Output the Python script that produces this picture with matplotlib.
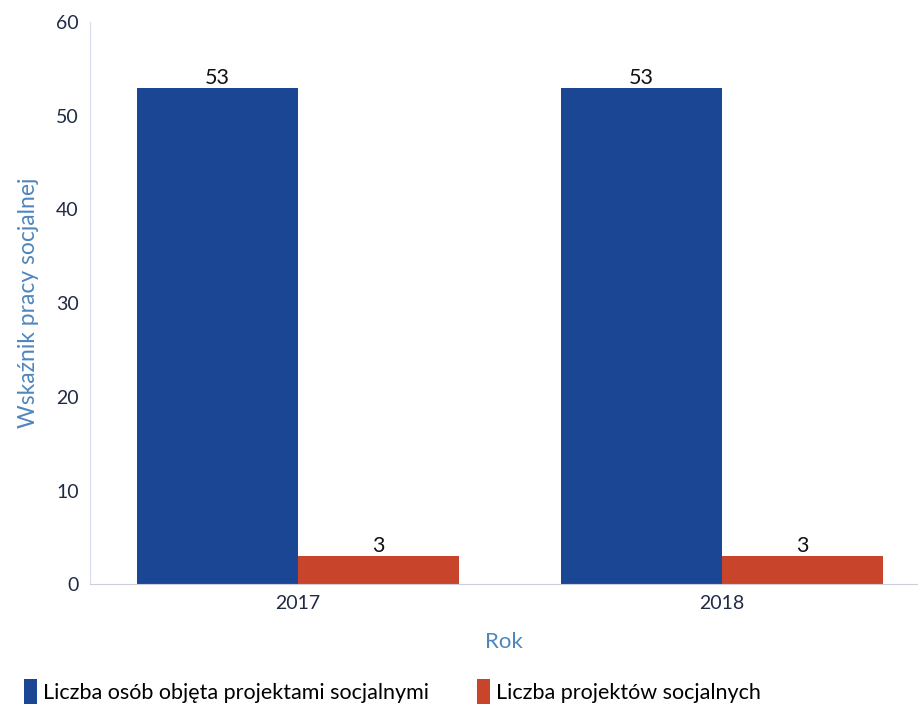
import matplotlib.pyplot as plt
import numpy as np

# data
years = ['2017', '2018']
people = [53, 53]
projects = [3, 3]
series_names = ['Liczba osób objęta projektami socjalnymi', 'Liczba projektów socjalnych']

plt.rcParams['font.family'] = ['Lato', 'DejaVu Sans']

fig = plt.figure(figsize=(9.18, 7.09), dpi=100)
ax = fig.add_axes([0.098, 0.176, 0.902, 0.793])

x = np.arange(len(years))
w = 0.38

b1 = ax.bar(x - w / 2, people, w, color='#1b4693', label=series_names[0])
b2 = ax.bar(x + w / 2, projects, w, color='#c8442b', label=series_names[1])

# value labels on top of bars
for rects in (b1, b2):
    for r in rects:
        ax.text(r.get_x() + r.get_width() / 2, r.get_height(), str(int(r.get_height())),
                ha='center', va='bottom', fontsize=15.5, color='#111111')

ax.set_xlim(-0.49, 1.463)
ax.set_ylim(0, 60)
ax.set_yticks(range(0, 61, 10))
ax.set_xticks(x)
ax.set_xticklabels(years)
ax.tick_params(axis='both', length=0, labelsize=14, colors='#1f2b45', pad=8)

for side in ('top', 'right'):
    ax.spines[side].set_visible(False)
ax.spines['left'].set_color('#d5dbe8')
ax.spines['bottom'].set_color('#c9ced8')

ax.set_ylabel('Wskaźnik pracy socjalnej', fontsize=16.5, color='#4f86bd', labelpad=12)
ax.set_xlabel('Rok', fontsize=16, color='#4f86bd', labelpad=14)

fig.legend(handles=[b1, b2], labels=series_names, loc='lower left',
           bbox_to_anchor=(0.005, -0.02), ncol=2, frameon=False, fontsize=15.5,
           handlelength=0.6, handleheight=1.4, handletextpad=0.3, columnspacing=2.2)

fig.savefig('out.png', dpi=100)
